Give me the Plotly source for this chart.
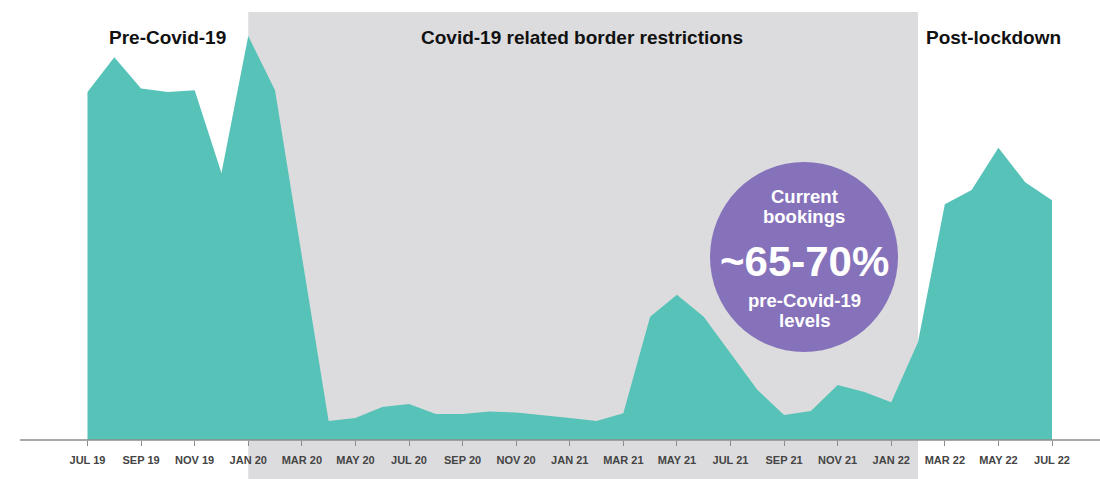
import plotly.graph_objects as go

# Monthly bookings index, Jul 2019 - Jul 2022
months = ["Jul 19", "Aug 19", "Sep 19", "Oct 19", "Nov 19", "Dec 19",
          "Jan 20", "Feb 20", "Mar 20", "Apr 20", "May 20", "Jun 20",
          "Jul 20", "Aug 20", "Sep 20", "Oct 20", "Nov 20", "Dec 20",
          "Jan 21", "Feb 21", "Mar 21", "Apr 21", "May 21", "Jun 21",
          "Jul 21", "Aug 21", "Sep 21", "Oct 21", "Nov 21", "Dec 21",
          "Jan 22", "Feb 22", "Mar 22", "Apr 22", "May 22", "Jun 22",
          "Jul 22"]
bookings = [79.1, 87.0, 79.9, 79.1, 79.5, 60.7,
            91.8, 79.5, 41.8, 4.3, 5.0, 7.5,
            8.2, 5.9, 5.9, 6.5, 6.25, 5.7,
            5.0, 4.3, 6.1, 28.0, 33.0, 28.0,
            19.8, 11.4, 5.7, 6.6, 12.5, 10.9,
            8.6, 22.3, 53.6, 56.8, 66.4, 58.6,
            54.5]

tick_labels = ["JUL 19", "SEP 19", "NOV 19", "JAN 20", "MAR 20", "MAY 20",
               "JUL 20", "SEP 20", "NOV 20", "JAN 21", "MAR 21", "MAY 21",
               "JUL 21", "SEP 21", "NOV 21", "JAN 22", "MAR 22", "MAY 22",
               "JUL 22"]

restriction_start = "Jan 20"
restriction_end = "Feb 22"

W, H = 1100, 479
BOTTOM = 39
PLOT_H = H - BOTTOM

x_idx = list(range(len(months)))
tick_idx = x_idx[::2]

# x range chosen so each month is ~26.8 px wide with Jul 19 at 87.5 px
px_per_month = (1052 - 87.5) / 36
x0_range = -87.5 / px_per_month
x1_range = x0_range + W / px_per_month


def xpaper_from_idx(i):
    return (i - x0_range) / (x1_range - x0_range)


def xp(px):
    return px / W


def yp(py):
    return (PLOT_H - py) / PLOT_H


TEAL = "#57c2b8"
GREY = "#dcdcde"
PURPLE = "#8671bb"
FONT = "Liberation Sans"

fig = go.Figure()
fig.add_trace(go.Scatter(
    x=x_idx, y=bookings, mode="lines", fill="tozeroy",
    line=dict(width=0, color=TEAL), fillcolor=TEAL,
    hoverinfo="skip", showlegend=False,
))

shapes = [
    # restriction period band
    dict(type="rect", layer="below", xref="paper", yref="paper",
         x0=xpaper_from_idx(months.index(restriction_start)),
         x1=xpaper_from_idx(months.index(restriction_end)),
         y0=yp(H + 5), y1=yp(12),
         fillcolor=GREY, line=dict(width=0)),
    # baseline
    dict(type="line", layer="above", xref="paper", yref="paper",
         x0=xp(20), x1=1, y0=0, y1=0,
         line=dict(color="#8c8c8c", width=1.5)),
    # callout bubble
    dict(type="circle", layer="above", xref="paper", yref="paper",
         x0=xp(710), x1=xp(898), y0=yp(352), y1=yp(162),
         fillcolor=PURPLE, line=dict(width=0)),
]

annotations = []
for text, cx in [("Pre-Covid-19", 167), ("Covid-19 related border restrictions", 582),
                 ("Post-lockdown", 993)]:
    annotations.append(dict(
        text=text, xref="paper", yref="paper", x=xp(cx), y=yp(37),
        xanchor="center", yanchor="middle", showarrow=False,
        font=dict(family=FONT, size=19, color="#111111", weight=700)))

bubble_lines = [("Current", 196, 18.5), ("bookings", 216, 18.5),
                ("~65-70%", 261, 42), ("pre-Covid-19", 300, 18.5),
                ("levels", 320, 18.5)]
for text, cy, size in bubble_lines:
    annotations.append(dict(
        text=text, xref="paper", yref="paper", x=xp(804), y=yp(cy),
        xanchor="center", yanchor="middle", showarrow=False,
        font=dict(family=FONT, size=size, color="#ffffff", weight=700)))

fig.update_layout(
    width=W, height=H,
    margin=dict(l=0, r=0, t=0, b=BOTTOM, pad=0),
    paper_bgcolor="#ffffff", plot_bgcolor="rgba(0,0,0,0)",
    shapes=shapes, annotations=annotations,
    xaxis=dict(range=[x0_range, x1_range], tickmode="array",
               tickvals=tick_idx, ticktext=tick_labels,
               ticks="outside", ticklen=5, tickwidth=1, tickcolor="#8c8c8c",
               ticklabelstandoff=5,
               tickfont=dict(family=FONT, size=11, color="#444444", weight=700),
               showgrid=False, zeroline=False, showline=False, fixedrange=True),
    yaxis=dict(range=[0, 100], visible=False, showgrid=False,
               zeroline=False, fixedrange=True),
)

fig.write_html("out.html", config={"displayModeBar": False})
